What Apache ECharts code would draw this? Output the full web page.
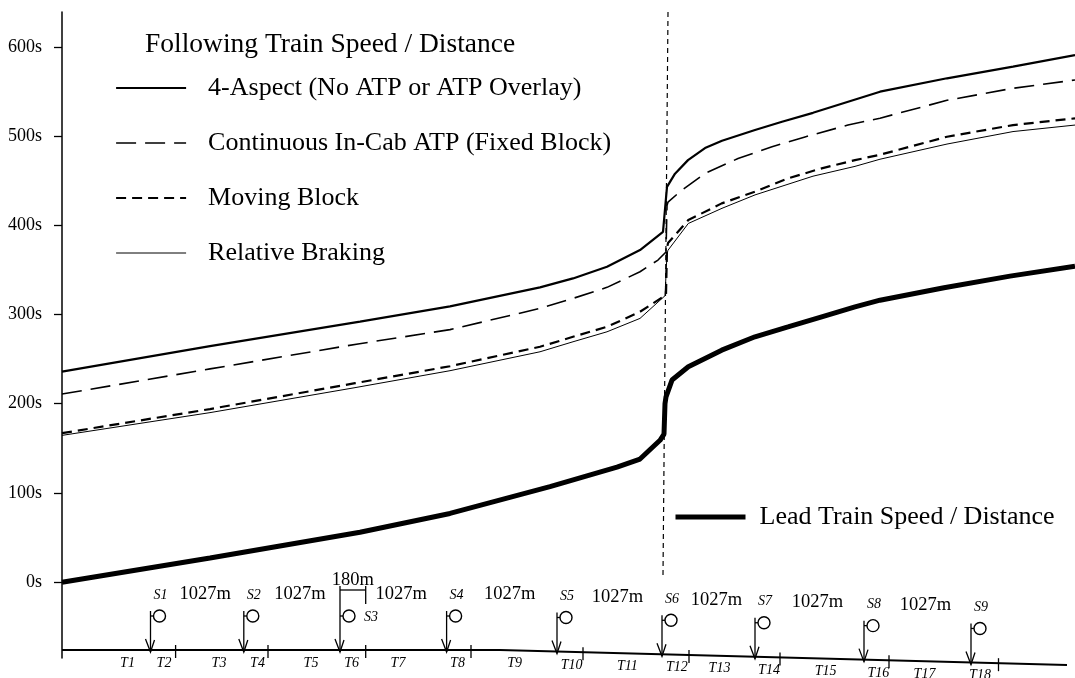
<!DOCTYPE html>
<html><head><meta charset="utf-8">
<script src="https://cdn.jsdelivr.net/npm/echarts@6/dist/echarts.min.js"></script>
<style>html,body{margin:0;padding:0;background:#fff}#c{width:1075px;height:678px}</style>
</head><body><div id="c"></div>
<script>
const FONT = 'Liberation Serif';

// ---- data (x: distance units along the line, y: seconds) ----
const followingTitle = 'Following Train Speed / Distance';
const nameFourAspect = '4-Aspect (No ATP or ATP Overlay)';
const nameFixedBlock = 'Continuous In-Cab ATP (Fixed Block)';
const nameMovingBlock = 'Moving Block';
const nameRelative = 'Relative Braking';
const nameLead = 'Lead Train Speed / Distance';

const yTickValues = [0, 100, 200, 300, 400, 500, 600];

const fourAspect = [[0,236],[1480,264.6],[2980,292],[3880,309],[4780,330.4],[5110,340.4],[5450,353.5],[5780,372.2],
  [6010,392.7],[6050,443],[6130,457.8],[6260,473],[6430,486.5],[6600,494.7],[6930,506.7],[7200,516],[7510,526],
  [8180,549.7],[8850,564.7],[9510,577.7],[10130,590.8]];
const fixedBlock = [[0,210.8],[1480,239],[2960,267],[3880,283],[4780,306.8],[5110,318],[5450,330.4],[5780,347.9],
  [5960,361],[6040,370],[6050,422],[6060,426],[6200,439.5],[6430,458],[6760,474.8],[7100,487.9],[7430,499],[7860,512.3],
  [8180,520],[8850,540],[9510,553.5],[10130,562.8]];
const movingBlock = [[0,167],[1480,194],[2930,223],[3880,242],[4780,263.8],[5110,275],[5450,286.2],[5780,303],
  [6010,319.8],[6040,322],[6050,374],[6060,380],[6263,405.8],[6597,424.5],[6930,437.6],[7260,452.5],[7597,463.8],
  [7930,473],[8180,479],[8850,499.2],[9510,512.3],[10130,519.8]];
const relativeBraking = [[0,164.5],[1480,190],[2930,218],[3880,237],[4780,258.2],[5110,269.4],[5450,280.6],[5780,295.6],
  [6030,321],[6050,368],[6060,372],[6263,402],[6600,419],[6930,434],[7510,455],[7930,466],[8180,474],[8850,491],
  [9510,505],[10130,512.3]];
const leadTrain = [[0,0],[1480,27],[2980,56],[3880,77],[4880,107],[5550,129],[5780,138],[5980,159],[6020,166],
  [6030,200],[6040,207.7],[6100,226.5],[6263,241.4],[6597,260],[6930,275],[7260,286],[7597,297.4],[7930,308.6],
  [8180,316],[8820,330],[9480,343],[10130,354]];
const boundaryMarker = [[6060,639],[6010,8]];

const signalNames = ['S1','S2','S3','S4','S5','S6','S7','S8','S9'];
const signalPos = [885,1818,2780,3846,4950,6000,6930,8020,9090];
const jointPos = [1136,2060,3037,4090,5210,6270,7180,8270,9365];
const circuitNames = ['T1','T2','T3','T4','T5','T6','T7','T8','T9','T10','T11','T12','T13','T14','T15','T16','T17','T18'];
const circuitPos = [655,1020,1570,1955,2490,2897,3360,3955,4527,5097,5653,6149,6575,7070,7636,8164,8625,9180];
const spacingLabel = '1027m';
const overlapLabel = '180m';
const trackEnd = 10050;

const chart = echarts.init(document.getElementById('c'), null, {renderer: 'canvas'});

function lineSeries(name, data, width, type) {
  return {
    name, type: 'line', data, showSymbol: false, symbol: 'none', smooth: false,
    lineStyle: {color: '#000', width, type}, itemStyle: {color: '#000'}, silent: true, z: 3
  };
}

const legendText = {fontFamily: FONT, fontSize: 26, color: '#000', lineHeight: 30};
const legendCommon = {
  orient: 'vertical', itemWidth: 70, itemHeight: 14, padding: 0, selectedMode: false,
  itemStyle: {color: 'transparent', borderColor: 'transparent', borderWidth: 0, opacity: 0},
  lineStyle: {width: 'inherit', type: 'inherit', color: '#000'}
};

chart.setOption({
  animation: false,
  backgroundColor: '#fff',
  grid: {left: 62, right: 0, top: 12, bottom: 20, containLabel: false},
  xAxis: {type: 'value', min: 0, max: 10130, show: false},
  yAxis: {
    type: 'value', min: -85, max: 639,
    axisLine: {show: true, lineStyle: {color: '#000', width: 1.5}},
    axisTick: {show: true, inside: false, length: 8, customValues: yTickValues, lineStyle: {color: '#000', width: 1.3}},
    axisLabel: {customValues: yTickValues, formatter: v => v + 's', color: '#000', fontFamily: FONT, fontSize: 18, margin: 20},
    splitLine: {show: false}
  },
  legend: [
    Object.assign({}, legendCommon, {
      left: 115, top: 73, itemGap: 25,
      textStyle: Object.assign({padding: [0, 0, 0, 17]}, legendText),
      data: [nameFourAspect, nameFixedBlock, nameMovingBlock, nameRelative]
    }),
    Object.assign({}, legendCommon, {
      left: 673, top: 502,
      textStyle: Object.assign({padding: [0, 0, 0, 9]}, legendText),
      data: [nameLead]
    })
  ],
  series: [
    lineSeries(nameFourAspect, fourAspect, 2.2, 'solid'),
    lineSeries(nameFixedBlock, fixedBlock, 1.6, [20, 9]),
    lineSeries(nameMovingBlock, movingBlock, 2.2, [10, 6]),
    lineSeries(nameRelative, relativeBraking, 1, 'solid'),
    lineSeries(nameLead, leadTrain, 5, 'solid'),
    {name: 'boundary', type: 'line', data: boundaryMarker, showSymbol: false, symbol: 'none',
     lineStyle: {color: '#000', width: 1.2, type: [5, 4]}, silent: true, z: 2}
  ]
});

// ---- track diagram drawn from axis scale ----
const px = u => chart.convertToPixel({xAxisIndex: 0}, u);
const trackY = x => x < 500 ? 650 : 650 + (x - 500) * 15 / 567;
const G = [];
const ln = (x1, y1, x2, y2, w) => G.push({type: 'line', silent: true, shape: {x1, y1, x2, y2}, style: {stroke: '#000', lineWidth: w}});
const tx = (s, x, y, size, italic, align) => G.push({type: 'text', silent: true, x, y,
  style: {text: s, fontFamily: FONT, fontSize: size, fontStyle: italic ? 'italic' : 'normal', fill: '#000',
          align: align || 'center', verticalAlign: 'middle'}});

// title
tx(followingTitle, 145, 45, 27.5, false, 'left');

// track
const x0 = px(0), xe = px(trackEnd);
G.push({type: 'polyline', silent: true, shape: {points: [[x0, trackY(x0)], [500, trackY(500)], [xe, trackY(xe)]]},
  style: {stroke: '#000', lineWidth: 1.8, fill: null}});

signalPos.forEach((u, i) => {
  const a = px(u), ty = trackY(a), cy = ty - 34;
  const top = signalNames[i] === 'S3' ? ty - 64 : cy - 5;
  ln(a, top, a, ty + 2, 1.3);
  G.push({type: 'polyline', silent: true, shape: {points: [[a - 5, ty - 11], [a, ty + 2], [a + 4, ty - 10]]},
    style: {stroke: '#000', lineWidth: 1.3, fill: null}});
  ln(a, cy, a + 3, cy, 1.3);
  G.push({type: 'circle', silent: true, shape: {cx: a + 9, cy, r: 6}, style: {stroke: '#000', lineWidth: 1.4, fill: 'none'}});
  if (signalNames[i] === 'S3') tx(signalNames[i], a + 24, cy + 1, 14, true, 'left');
  else tx(signalNames[i], a + 3, ty - 55, 14, true, 'left');
  const j = px(jointPos[i]);
  ln(j, trackY(j) - 5, j, trackY(j) + 8, 1.3);
  if (i < signalPos.length - 1) {
    const b = px(signalPos[i + 1]);
    const m = (a + b) / 2 + 8;
    tx(spacingLabel, m, trackY(m) - 56, 18.5, false);
  }
  if (signalNames[i] === 'S3') {
    ln(a, ty - 60, j, ty - 60, 1.3);
    ln(j, ty - 64, j, ty - 46, 1.3);
    tx(overlapLabel, (a + j) / 2, ty - 70, 18.5, false);
  }
});

circuitPos.forEach((u, i) => {
  const x = px(u);
  tx(circuitNames[i], x, trackY(x) + 13, 14, true);
});

chart.setOption({graphic: {elements: G}});
</script>
</body></html>
